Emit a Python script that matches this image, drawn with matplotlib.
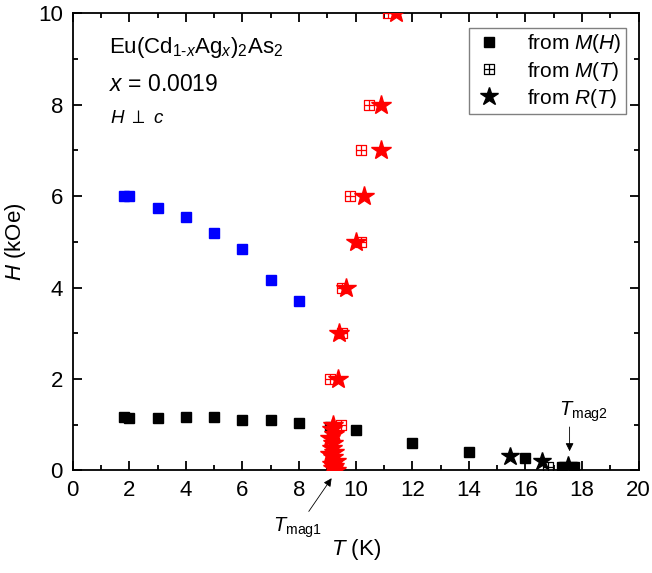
import matplotlib
matplotlib.use("Agg")
import matplotlib.pyplot as plt
from matplotlib.path import Path
from matplotlib.ticker import MultipleLocator

plt.rcParams['font.family'] = ['Liberation Sans', 'DejaVu Sans']
plt.rcParams['mathtext.fontset'] = 'custom'
plt.rcParams['mathtext.rm'] = 'Liberation Sans'
plt.rcParams['mathtext.it'] = 'Liberation Sans:italic'
plt.rcParams['mathtext.bf'] = 'Liberation Sans:bold'

# ---- data ----
# from M(H): low-field transition (black)
mh_low_T = [1.8, 2.0, 3.0, 4.0, 5.0, 6.0, 7.0, 8.0, 9.1, 10.0, 12.0, 14.0, 16.0, 17.3, 17.7]
mh_low_H = [1.17, 1.14, 1.14, 1.16, 1.16, 1.10, 1.10, 1.04, 0.95, 0.88, 0.59, 0.40, 0.27, 0.08, 0.08]
# from M(H): high-field transition (blue)
mh_high_T = [1.8, 2.0, 3.0, 4.0, 5.0, 6.0, 7.0, 8.0]
mh_high_H = [6.0, 6.0, 5.75, 5.54, 5.2, 4.84, 4.17, 3.71]
# from M(T): red
mt_red_T = [9.49, 9.08, 9.53, 9.53, 10.18, 9.81, 10.18, 10.47, 11.14]
mt_red_H = [1.0, 2.0, 3.0, 4.0, 5.0, 6.0, 7.0, 8.0, 10.0]
# from M(T): black
mt_blk_T = [16.8]
mt_blk_H = [0.07]
# from R(T): red
rt_red_T = [9.2, 9.15, 9.25, 9.1, 9.2, 9.15, 9.25, 9.1, 9.2, 9.3, 9.15, 9.25, 9.2, 9.3,
            9.38, 9.41, 9.67, 10.02, 10.3, 10.9, 10.9, 11.44]
rt_red_H = [1.0, 0.9, 0.8, 0.7, 0.6, 0.5, 0.4, 0.35, 0.3, 0.2, 0.15, 0.1, 0.05, 0.0,
            2.0, 3.0, 4.0, 5.0, 6.0, 7.0, 8.0, 10.0]
# from R(T): black
rt_blk_T = [15.45, 16.6, 17.52]
rt_blk_H = [0.32, 0.21, 0.12]

xticks = [0, 2, 4, 6, 8, 10, 12, 14, 16, 18, 20]
yticks = [0, 2, 4, 6, 8, 10]

# cross-square marker
verts = [(-1, -1), (1, -1), (1, 1), (-1, 1), (-1, -1),
         (0, -1), (0, 1), (-1, 0), (1, 0)]
codes = [Path.MOVETO, Path.LINETO, Path.LINETO, Path.LINETO, Path.CLOSEPOLY,
         Path.MOVETO, Path.LINETO, Path.MOVETO, Path.LINETO]
xsq = Path(verts, codes)

fig = plt.figure(figsize=(6.52, 5.73), dpi=100)
ax = fig.add_axes([0.1115, 0.179, 0.868, 0.798])

sq_ms = 6.5
st_ms = 14.5
xs_ms = 7.5

ax.plot(mh_low_T, mh_low_H, 's', color='black', ms=sq_ms, mec='black', zorder=3)
ax.plot(mh_high_T, mh_high_H, 's', color='blue', ms=sq_ms, mec='blue', zorder=3)
ax.plot(mt_red_T, mt_red_H, ls='none', marker=xsq, ms=xs_ms, mfc='none', mec='red', mew=0.9, zorder=4)
ax.plot(mt_blk_T, mt_blk_H, ls='none', marker=xsq, ms=xs_ms, mfc='none', mec='black', mew=0.9, zorder=4)
ax.plot(rt_red_T, rt_red_H, '*', color='red', ms=st_ms, mec='red', zorder=5)
ax.plot(rt_blk_T, rt_blk_H, '*', color='black', ms=st_ms - 1, mec='black', zorder=5)

# legend proxies
h1, = ax.plot([], [], 's', color='black', ms=sq_ms)
h2, = ax.plot([], [], ls='none', marker=xsq, ms=xs_ms, mfc='none', mec='black', mew=0.9)
h3, = ax.plot([], [], '*', color='black', ms=st_ms - 1)
leg = ax.legend([h1, h2, h3],
                [r'from $\mathit{M(H)}$', r'from $\mathit{M(T)}$', r'from $\mathit{R(T)}$'],
                loc='upper right', fontsize=15, frameon=True, fancybox=False,
                edgecolor='#808080', framealpha=1, handletextpad=1.0, handlelength=1.6,
                borderpad=0.2, labelspacing=0.2, borderaxespad=0.0,
                bbox_to_anchor=(0.977, 0.967))
leg.get_frame().set_linewidth(1.0)

ax.set_xlim(0, 20)
ax.set_ylim(0, 10)
ax.set_xticks(xticks)
ax.set_yticks(yticks)
ax.xaxis.set_minor_locator(MultipleLocator(1))
ax.yaxis.set_minor_locator(MultipleLocator(1))
ax.tick_params(which='both', direction='in', top=True, right=True, width=1.3, labelsize=16)
ax.tick_params(which='major', length=6.5)
ax.tick_params(which='minor', length=3.6)
ax.tick_params(axis='x', which='major', pad=7)
ax.tick_params(axis='y', which='major', pad=7)
for s in ax.spines.values():
    s.set_linewidth(1.3)

ax.set_xlabel(r'$\mathit{T}$ (K)', fontsize=16, labelpad=26)
ax.set_ylabel(r'$\mathit{H}$ (kOe)', fontsize=16, labelpad=7)

ax.text(0.064, 0.925, r'Eu(Cd$_{1\text{-}x}$Ag$_x$)$_2$As$_2$', transform=ax.transAxes,
        fontsize=16, va='center', ha='left')
ax.text(0.064, 0.843, r'$x$ = 0.0019', transform=ax.transAxes,
        fontsize=16.5, va='center', ha='left')
ax.text(0.066, 0.77, r'$H$ $\perp$ $c$', transform=ax.transAxes,
        fontsize=13.5, va='center', ha='left')

ax.annotate(r'$T_{\mathrm{mag1}}$', xy=(9.15, -0.17), xytext=(7.95, -1.25),
            fontsize=14.5, ha='center', va='center', annotation_clip=False,
            arrowprops=dict(arrowstyle='-|>', color='black', lw=0.6,
                            mutation_scale=12, shrinkA=1, shrinkB=0))
ax.text(18.05, 1.28, r'$T_{\mathrm{mag2}}$', fontsize=14.5, ha='center', va='center')
ax.annotate('', xy=(17.56, 0.42), xytext=(17.56, 0.95),
            arrowprops=dict(arrowstyle='-|>', color='black', lw=0.6,
                            mutation_scale=12, shrinkA=0, shrinkB=0))

fig.savefig('out.png', dpi=100)
